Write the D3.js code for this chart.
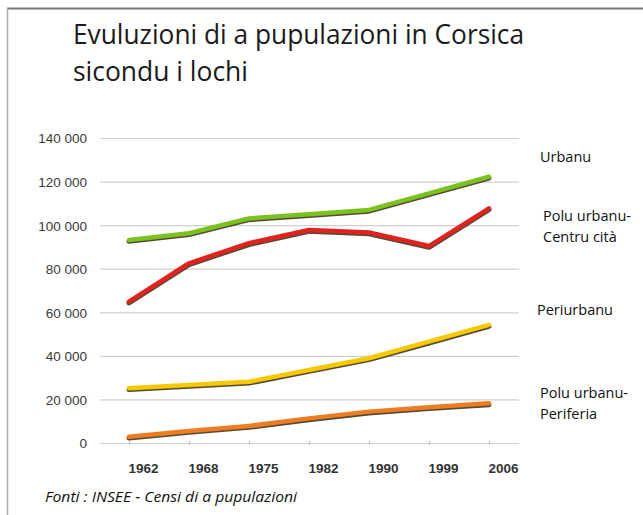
<!DOCTYPE html>
<html><head><meta charset="utf-8">
<script src="https://cdn.jsdelivr.net/npm/d3@7"></script>
<style>
html,body{margin:0;padding:0;background:#fff;}
svg{display:block;}
</style></head>
<body>
<svg id="chart" width="643" height="515"></svg>
<script>
const years = ["1962","1968","1975","1982","1990","1999","2006"];
const urbanu = [93200, 96300, 103100, 105000, 107000, 114600, 122200];
const poluCentru = [64900, 82500, 91700, 97800, 96600, 90400, 107700];
const periurbanu = [25100, 26600, 28100, 33500, 38900, 46500, 54200];
const poluPeriferia = [2900, 5500, 7800, 11300, 14400, 16400, 18200];
const yTicks = [0, 20000, 40000, 60000, 80000, 100000, 120000, 140000];
const titleLines = ["Evuluzioni di a pupulazioni in Corsica", "sicondu i lochi"];
const source = "Fonti : INSEE - Censi di a pupulazioni";

const series = [
  {name:["Urbanu"], values:urbanu, color:"#7cc21f", labelY:157},
  {name:["Polu urbanu-","Centru cità"], values:poluCentru, color:"#e1231f", labelY:216},
  {name:["Periurbanu"], values:periurbanu, color:"#f6c800", labelY:310},
  {name:["Polu urbanu-","Periferia"], values:poluPeriferia, color:"#ee7d22", labelY:393}
];
const labelX = [540, 543, 537, 540];

const svg = d3.select("#chart");
// frame
svg.append("line").attr("x1",7).attr("x2",643).attr("y1",8.5).attr("y2",8.5)
  .attr("stroke","#777").attr("stroke-width",2);
svg.append("line").attr("x1",7.5).attr("x2",7.5).attr("y1",8).attr("y2",515)
  .attr("stroke","#aaa").attr("stroke-width",1.5);

// title
const font = "'Open Sans', 'Noto Sans', sans-serif";
svg.append("text").attr("x",73).attr("y",44).attr("font-family",font).attr("font-size",27)
  .attr("fill","#1a1a1a").attr("textLength",451).attr("lengthAdjust","spacingAndGlyphs").text(titleLines[0]);
svg.append("text").attr("x",73).attr("y",81).attr("font-family",font).attr("font-size",27)
  .attr("fill","#1a1a1a").attr("textLength",175).attr("lengthAdjust","spacingAndGlyphs").text(titleLines[1]);

const x = d3.scalePoint().domain(years).range([129, 489]);
const y = d3.scaleLinear().domain([0, 140000]).range([443, 138]);

// grid + y labels
const gridG = svg.append("g").attr("transform","translate(519,0)")
  .call(d3.axisLeft(y).tickValues(yTicks).tickSize(419).tickFormat(d => d3.format(",")(d).replace(/,/g," ")));
gridG.select(".domain").remove();
gridG.selectAll(".tick line").attr("stroke","#d0d0d0").attr("stroke-width",1.2);
gridG.selectAll(".tick text").attr("x",-432).attr("dy","0.36em").attr("text-anchor","end")
  .attr("font-family","'Liberation Sans', Arial, sans-serif").attr("font-size",13.5).attr("fill","#3a3a3a");

// x axis
const xg = svg.append("g").attr("transform","translate(0,443)")
  .call(d3.axisBottom(x).tickSize(4).tickPadding(16));
xg.select(".domain").remove();
xg.selectAll(".tick line").attr("stroke","#bbb").attr("transform","translate(0,-2)");
xg.selectAll(".tick text").attr("dx",14).attr("font-family","'Liberation Sans Narrow', 'Liberation Sans', Arial, sans-serif")
  .attr("font-weight","bold").attr("font-size",13.5).attr("fill","#333");

const line = d3.line().x((d,i)=>x(years[i])).y(d=>y(d));
series.forEach((s,k)=>{
  svg.append("path").datum(s.values).attr("d",line).attr("fill","none")
    .attr("stroke","#3a2a10").attr("stroke-width",5).attr("stroke-linecap","round").attr("stroke-linejoin","round")
    .attr("transform","translate(0,1.3)").attr("opacity",0.85);
  svg.append("path").datum(s.values).attr("d",line).attr("fill","none")
    .attr("stroke",s.color).attr("stroke-width",4.5).attr("stroke-linecap","round").attr("stroke-linejoin","round");
  s.name.forEach((t,j)=>{
    svg.append("text").attr("x",labelX[k]).attr("y",s.labelY + 5 + j*21)
      .attr("font-family",font).attr("font-size",14.5).attr("fill","#111").text(t);
  });
});

svg.append("text").attr("x",45).attr("y",502).attr("font-family",font).attr("font-style","italic")
  .attr("font-size",14).attr("fill","#111").attr("textLength",252).attr("lengthAdjust","spacingAndGlyphs").text(source);
</script>
</body></html>
